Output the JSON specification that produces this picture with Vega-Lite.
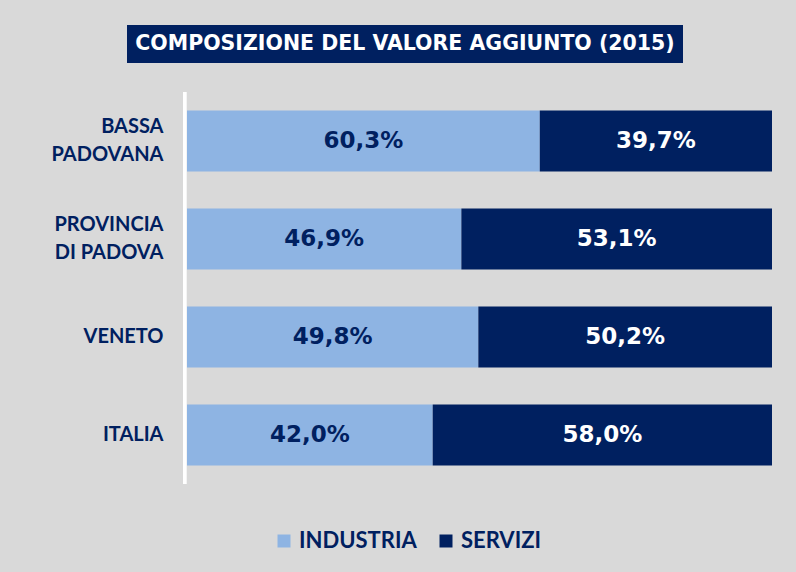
{
  "$schema": "https://vega.github.io/schema/vega-lite/v6.json",
  "background": "#d9d9d9",
  "padding": {"left": 38, "top": 25, "right": 24, "bottom": 25},
  "config": {
    "locale": {"number": {"decimal": ",", "thousands": ".", "grouping": [3], "currency": ["€", ""]}},
    "font": "Lato"
  },
  "center": true,
  "spacing": 27,
  "vconcat": [
    {
      "width": 556,
      "height": 38,
      "view": {"fill": "#002060", "stroke": null},
      "data": {"values": [{"t": "COMPOSIZIONE DEL VALORE AGGIUNTO (2015)"}]},
      "mark": {"type": "text", "color": "white", "font": "DejaVu Sans", "fontWeight": "bold", "fontSize": 20.5, "baseline": "middle", "align": "center"},
      "encoding": {"text": {"field": "t"}}
    },
    {
      "width": 734,
      "height": 392,
      "view": {"stroke": null},
      "data": {"values": [
        {"area": "BASSA|PADOVANA", "k": "INDUSTRIA", "v": 0.603},
        {"area": "BASSA|PADOVANA", "k": "SERVIZI", "v": 0.397},
        {"area": "PROVINCIA|DI PADOVA", "k": "INDUSTRIA", "v": 0.469},
        {"area": "PROVINCIA|DI PADOVA", "k": "SERVIZI", "v": 0.531},
        {"area": "VENETO", "k": "INDUSTRIA", "v": 0.498},
        {"area": "VENETO", "k": "SERVIZI", "v": 0.502},
        {"area": "ITALIA", "k": "INDUSTRIA", "v": 0.420},
        {"area": "ITALIA", "k": "SERVIZI", "v": 0.580}
      ]},
      "transform": [
        {"stack": "v", "groupby": ["area"], "sort": [{"field": "k"}], "as": ["v0", "v1"]},
        {"calculate": "(datum.v0 + datum.v1) / 2", "as": "mid"}
      ],
      "layer": [
        {
          "mark": {"type": "bar"},
          "encoding": {
            "y": {
              "field": "area", "type": "nominal", "sort": null, "title": null,
              "scale": {"paddingInner": 0.38, "paddingOuter": 0.19},
              "axis": {
                "labelExpr": "split(datum.label, '|')",
                "labelFont": "Lato", "labelFontWeight": "bold", "labelFontSize": 20,
                "labelColor": "#002060", "labelLineHeight": 28, "labelPadding": -125,
                "labelAlign": "right",
                "labelOffset": {"condition": {"test": "indexof(datum.value, '|') >= 0", "value": -14}, "value": 0},
                "ticks": false, "domain": false
              }
            },
            "x": {"field": "v0", "type": "quantitative", "scale": {"domain": [-0.2547, 1], "nice": false, "zero": false}, "axis": null},
            "x2": {"field": "v1"},
            "color": {
              "field": "k", "type": "nominal",
              "scale": {"domain": ["INDUSTRIA", "SERVIZI"], "range": ["#8eb4e3", "#002060"]},
              "legend": {
                "title": null, "orient": "none", "direction": "horizontal",
                "legendX": 235, "legendY": 505,
                "symbolType": "square", "symbolSize": 169, "symbolStrokeWidth": 0,
                "labelFont": "Lato", "labelFontWeight": "bold", "labelFontSize": 22,
                "labelColor": "#002060", "columnPadding": 18, "labelOffset": 4
              }
            }
          }
        },
        {
          "mark": {"type": "text", "fontSize": 23, "fontWeight": "bold", "font": "DejaVu Sans", "baseline": "middle", "align": "center"},
          "encoding": {
            "y": {"field": "area", "type": "nominal", "sort": null},
            "x": {"field": "mid", "type": "quantitative"},
            "text": {"field": "v", "type": "quantitative", "format": ".1%"},
            "color": {
              "condition": {"test": "datum.k === 'SERVIZI'", "value": "white"},
              "value": "#002060"
            }
          }
        },
        {
          "mark": {"type": "rule", "color": "white", "strokeWidth": 3},
          "encoding": {"x": {"datum": -0.004}}
        }
      ]
    }
  ]
}
